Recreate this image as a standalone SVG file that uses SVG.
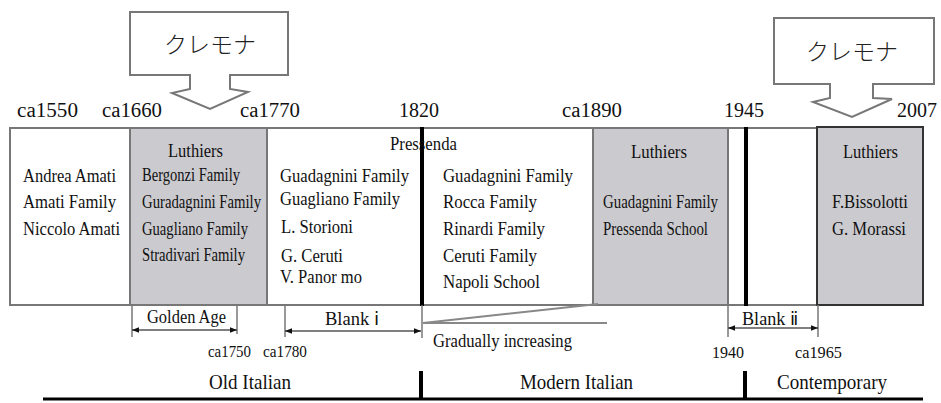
<svg xmlns="http://www.w3.org/2000/svg" width="941" height="403" viewBox="0 0 941 403">
<defs>
<style>
.t{font-family:"Liberation Serif","Times New Roman",serif;fill:#111;}
.s16{font-size:18px;}
.s15{font-size:17.5px;}
.s19{font-size:21px;}
.s20{font-size:20.5px;}
.jp{font-family:"Noto Sans CJK JP","Noto Sans",sans-serif;font-size:23px;font-weight:300;fill:#222;}
.box{stroke:#777;stroke-width:2;}
.white{fill:#fff;}
.gray{fill:#cbcbcf;}
.thick{stroke:#000;stroke-width:4;fill:none;}
.thin{stroke:#777;stroke-width:1.5;fill:none;}
.callout{fill:#fff;stroke:#777;stroke-width:2;stroke-linejoin:miter;}
.wedge{stroke:#888;stroke-width:2;fill:none;}
.arr{stroke:#555;stroke-width:1.5;fill:none;marker-start:url(#ah);marker-end:url(#ah);}
</style>
<marker id="ah" viewBox="0 0 10 10" refX="10" refY="5" markerWidth="7" markerHeight="7" orient="auto-start-reverse" markerUnits="userSpaceOnUse">
<path d="M0,1 L10,5 L0,9 Z" fill="#111"/>
</marker>
</defs>

<g id="callout-1">
<path class="callout" d="M130,12 H288 V75 H230 V89 L248,92 L210,109 L172,93 L190,89 V75 H130 Z"/>
<text class="jp" x="210" y="53" text-anchor="middle">クレモナ</text>
</g>
<g id="callout-2">
<path class="callout" d="M774,18 H934 V84 H873 V98 L892,99 L852,117 L813,102 L830,98 V84 H774 Z"/>
<text class="jp" x="852" y="60" text-anchor="middle">クレモナ</text>
</g>

<g id="years">
<text class="t s20" x="17" y="117" textLength="61" lengthAdjust="spacingAndGlyphs">ca1550</text>
<text class="t s20" x="102" y="117" textLength="60" lengthAdjust="spacingAndGlyphs">ca1660</text>
<text class="t s20" x="240" y="117" textLength="60" lengthAdjust="spacingAndGlyphs">ca1770</text>
<text class="t s20" x="399" y="117" textLength="40" lengthAdjust="spacingAndGlyphs">1820</text>
<text class="t s20" x="562" y="117" textLength="60" lengthAdjust="spacingAndGlyphs">ca1890</text>
<text class="t s20" x="724" y="117" textLength="40" lengthAdjust="spacingAndGlyphs">1945</text>
<text class="t s20" x="897" y="117" textLength="40" lengthAdjust="spacingAndGlyphs">2007</text>
</g>

<g id="box-1550">
<rect class="box white" x="10" y="128" width="120" height="177"/>
<text class="t s16" x="23" y="182" textLength="93" lengthAdjust="spacingAndGlyphs">Andrea Amati</text>
<text class="t s16" x="23" y="208" textLength="93" lengthAdjust="spacingAndGlyphs">Amati Family</text>
<text class="t s16" x="23" y="235" textLength="97" lengthAdjust="spacingAndGlyphs">Niccolo Amati</text>
</g>
<g id="box-1660">
<rect class="box gray" x="130" y="128" width="137" height="177"/>
<text class="t s16" x="168" y="157" textLength="55" lengthAdjust="spacingAndGlyphs">Luthiers</text>
<text class="t s16" x="142" y="181" textLength="98" lengthAdjust="spacingAndGlyphs">Bergonzi Family</text>
<text class="t s16" x="142" y="208" textLength="119" lengthAdjust="spacingAndGlyphs">Guradagnini Family</text>
<text class="t s16" x="142" y="235" textLength="106" lengthAdjust="spacingAndGlyphs">Guagliano Family</text>
<text class="t s16" x="142" y="261" textLength="103" lengthAdjust="spacingAndGlyphs">Stradivari Family</text>
</g>
<g id="box-1770">
<rect class="box white" x="267" y="128" width="155" height="177"/>
<text class="t s16" x="280" y="182" textLength="129" lengthAdjust="spacingAndGlyphs">Guadagnini Family</text>
<text class="t s16" x="280" y="205" textLength="120" lengthAdjust="spacingAndGlyphs">Guagliano Family</text>
<text class="t s16" x="281" y="233" textLength="72" lengthAdjust="spacingAndGlyphs">L. Storioni</text>
<text class="t s16" x="281" y="262" textLength="62" lengthAdjust="spacingAndGlyphs">G. Ceruti</text>
<text class="t s16" x="280" y="283" textLength="82" lengthAdjust="spacingAndGlyphs">V. Panor mo</text>
</g>
<g id="box-1820">
<rect class="box white" x="422" y="128" width="171" height="177"/>
<text class="t s16" x="443" y="182" textLength="130" lengthAdjust="spacingAndGlyphs">Guadagnini Family</text>
<text class="t s16" x="443" y="208" textLength="94" lengthAdjust="spacingAndGlyphs">Rocca Family</text>
<text class="t s16" x="443" y="235" textLength="102" lengthAdjust="spacingAndGlyphs">Rinardi Family</text>
<text class="t s16" x="443" y="262" textLength="94" lengthAdjust="spacingAndGlyphs">Ceruti Family</text>
<text class="t s16" x="443" y="288" textLength="97" lengthAdjust="spacingAndGlyphs">Napoli School</text>
</g>
<g id="box-1890">
<rect class="box gray" x="593" y="128" width="135" height="177"/>
<text class="t s16" x="631" y="158" textLength="56" lengthAdjust="spacingAndGlyphs">Luthiers</text>
<text class="t s16" x="603" y="208" textLength="115" lengthAdjust="spacingAndGlyphs">Guadagnini Family</text>
<text class="t s16" x="603" y="235" textLength="105" lengthAdjust="spacingAndGlyphs">Pressenda School</text>
</g>
<g id="box-1945">
<rect class="box white" x="728" y="128" width="89" height="177"/>
</g>
<g id="box-2007">
<rect x="817" y="127" width="106" height="178" fill="#cbcbcf" stroke="#333" stroke-width="2"/>
<text class="t s16" x="843" y="158" textLength="55" lengthAdjust="spacingAndGlyphs">Luthiers</text>
<text class="t s16" x="832" y="208" textLength="76" lengthAdjust="spacingAndGlyphs">F.Bissolotti</text>
<text class="t s16" x="832" y="235" textLength="74" lengthAdjust="spacingAndGlyphs">G. Morassi</text>
</g>

<g id="connectors">
<line class="thick" x1="422" y1="127" x2="422" y2="306"/>
<line class="thick" x1="746" y1="127" x2="746" y2="306"/>
<text class="t s16" x="390" y="150" textLength="67" lengthAdjust="spacingAndGlyphs">Pressenda</text>

<line class="thin" x1="132" y1="305" x2="132" y2="337"/>
<line class="thin" x1="237" y1="305" x2="237" y2="334"/>
<line class="arr" x1="132" y1="330" x2="237" y2="330"/>

<line class="thin" x1="285" y1="305" x2="285" y2="337"/>
<line class="thin" x1="422" y1="305" x2="422" y2="338"/>
<line class="arr" x1="285" y1="331" x2="421" y2="331"/>

<line class="thin" x1="728" y1="305" x2="728" y2="337"/>
<line class="thin" x1="818" y1="305" x2="818" y2="337"/>
<line class="arr" x1="728" y1="328" x2="818" y2="328"/>

<path class="wedge" d="M423,323 L598,304 M423,323 H607"/>

<line x1="43" y1="399" x2="923" y2="399" stroke="#000" stroke-width="3"/>
<line x1="421" y1="371" x2="421" y2="400" stroke="#000" stroke-width="4"/>
<line x1="745" y1="371" x2="745" y2="400" stroke="#000" stroke-width="4"/>
</g>

<g id="labels">
<text class="t s16" x="147" y="323" textLength="79" lengthAdjust="spacingAndGlyphs">Golden Age</text>
<text class="t s16" x="325" y="325" textLength="54" lengthAdjust="spacingAndGlyphs">Blank ⅰ</text>
<text class="t s16" x="742" y="325" textLength="56" lengthAdjust="spacingAndGlyphs">Blank ⅱ</text>
<text class="t s15" x="208" y="357" textLength="43" lengthAdjust="spacingAndGlyphs">ca1750</text>
<text class="t s15" x="263" y="357" textLength="44" lengthAdjust="spacingAndGlyphs">ca1780</text>
<text class="t s16" x="433" y="347" textLength="139" lengthAdjust="spacingAndGlyphs">Gradually increasing</text>
<text class="t s15" x="712" y="358" textLength="32" lengthAdjust="spacingAndGlyphs">1940</text>
<text class="t s15" x="795" y="358" textLength="47" lengthAdjust="spacingAndGlyphs">ca1965</text>
<text class="t s19" x="209" y="389" textLength="82" lengthAdjust="spacingAndGlyphs">Old Italian</text>
<text class="t s19" x="520" y="389" textLength="113" lengthAdjust="spacingAndGlyphs">Modern Italian</text>
<text class="t s19" x="777" y="389" textLength="110" lengthAdjust="spacingAndGlyphs">Contemporary</text>
</g>
</svg>
